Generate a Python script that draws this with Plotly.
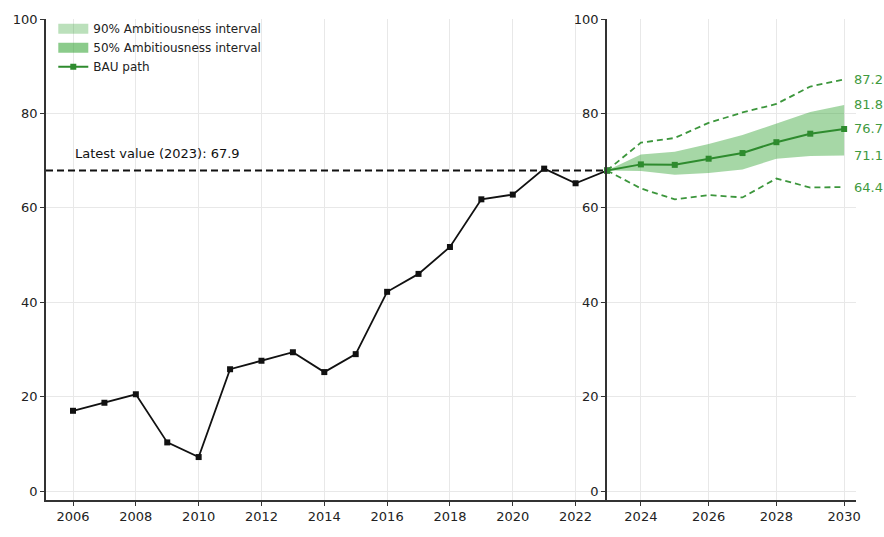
import plotly.graph_objects as go

hist_years = list(range(2006, 2024))
hist_values = [17.0, 18.7, 20.5, 10.3, 7.2, 25.8, 27.6, 29.4, 25.2, 29.0,
               42.2, 46.0, 51.7, 61.8, 62.8, 68.3, 65.2, 67.9]

proj_years = list(range(2023, 2031))
bau = [67.9, 69.2, 69.1, 70.4, 71.6, 73.9, 75.7, 76.7]
p50_low = [67.9, 67.8, 67.0, 67.4, 68.1, 70.4, 71.0, 71.1]
p50_high = [67.9, 71.3, 71.9, 73.5, 75.4, 77.8, 80.3, 81.8]
p90_low = [67.9, 64.1, 61.8, 62.7, 62.2, 66.2, 64.3, 64.4]
p90_high = [67.9, 73.8, 74.8, 78.0, 80.2, 82.0, 85.7, 87.2]

latest_year = 2023
latest_value = 67.9
end_labels = [p90_high[-1], p50_high[-1], bau[-1], p50_low[-1], p90_low[-1]]

GREEN = "#2e8b2e"
GREEN_LBL = "#3f9a3f"
FONT = "DejaVu Sans"

fig = go.Figure()

# legend entries (patches)
fig.add_trace(go.Scatter(x=[None], y=[None], xaxis="x2", yaxis="y2", mode="lines",
                         line=dict(width=10, color="rgba(44,160,44,0.32)"),
                         name="90% Ambitiousness interval", legendrank=1))
fig.add_trace(go.Scatter(x=[None], y=[None], xaxis="x2", yaxis="y2", mode="lines",
                         line=dict(width=10, color="rgba(44,160,44,0.55)"),
                         name="50% Ambitiousness interval", legendrank=2))

# 50% band
fig.add_trace(go.Scatter(x=proj_years, y=p50_low, xaxis="x2", yaxis="y2", mode="lines",
                         line=dict(width=0, color="rgba(44,160,44,0.45)"),
                         showlegend=False, hoverinfo="skip"))
fig.add_trace(go.Scatter(x=proj_years, y=p50_high, xaxis="x2", yaxis="y2", mode="lines",
                         fill="tonexty", fillcolor="rgba(44,160,44,0.42)",
                         line=dict(width=0, color="rgba(44,160,44,0.5)"),
                         showlegend=False, hoverinfo="skip"))

# 90% dashed bounds
for ys in (p90_high, p90_low):
    fig.add_trace(go.Scatter(x=proj_years, y=ys, xaxis="x2", yaxis="y2", mode="lines",
                             line=dict(width=1.8, color="#3c963c", dash="6px,4px"),
                             showlegend=False, hoverinfo="skip"))

# history
fig.add_trace(go.Scatter(x=hist_years, y=hist_values, xaxis="x", yaxis="y",
                         mode="lines+markers",
                         line=dict(width=1.8, color="#111111"),
                         marker=dict(symbol="square", size=6, color="#111111"),
                         showlegend=False, cliponaxis=False))

# latest value dashed line
fig.add_trace(go.Scatter(x=[2005.14, latest_year], y=[latest_value, latest_value],
                         xaxis="x", yaxis="y", mode="lines",
                         line=dict(width=2.2, color="#111111", dash="7px,4px"),
                         showlegend=False, hoverinfo="skip"))

# BAU
fig.add_trace(go.Scatter(x=proj_years, y=bau, xaxis="x2", yaxis="y2",
                         mode="lines+markers",
                         line=dict(width=2, color=GREEN),
                         marker=dict(symbol="square", size=6, color=GREEN),
                         name="BAU path", legendrank=3, cliponaxis=False))

annotations = [dict(x=2006, y=latest_value, xref="x", yref="y", xanchor="left",
                    yanchor="bottom", yshift=8, showarrow=False,
                    text=f"Latest value ({latest_year}): {latest_value}",
                    font=dict(size=13, color="#111111", family=FONT))]
for v in end_labels:
    annotations.append(dict(x=proj_years[-1], y=v, xref="x2", yref="y2",
                            xanchor="left", yanchor="middle", xshift=8,
                            showarrow=False, text=f"{v}",
                            font=dict(size=13, color=GREEN_LBL, family=FONT)))

split = (607 - 46) / 810

axis_common = dict(showgrid=True, gridcolor="#e8e8e8", gridwidth=1,
                   showline=True, linecolor="#333333", linewidth=1.5,
                   ticks="outside", ticklen=4, tickcolor="#333333",
                   tickfont=dict(size=13, color="#222222", family=FONT),
                   zeroline=False)

fig.update_layout(
    width=884, height=537,
    margin=dict(l=46, r=28, t=14, b=37),
    paper_bgcolor="white", plot_bgcolor="white",
    font=dict(family=FONT, size=12, color="#222222"),
    showlegend=True,
    legend=dict(x=0.009, y=1.01, xanchor="left", yanchor="top",
                bgcolor="rgba(255,255,255,0)", borderwidth=0,
                font=dict(size=12, color="#222222", family=FONT),
                traceorder="normal", itemwidth=30),
    xaxis=dict(domain=[0, split], range=[2005.14, 2023.0],
               tickvals=list(range(2006, 2023, 2)), anchor="y", **axis_common),
    xaxis2=dict(domain=[split, 1], range=[2023.0, 2030.35],
                tickvals=list(range(2024, 2031, 2)), anchor="y2", **axis_common),
    yaxis=dict(range=[-1.9, 100], tickvals=list(range(0, 101, 20)), anchor="x",
               **axis_common),
    yaxis2=dict(range=[-1.9, 100], tickvals=list(range(0, 101, 20)), anchor="x2",
                side="left", **axis_common),
    annotations=annotations,
)

fig.write_html("out.html")
